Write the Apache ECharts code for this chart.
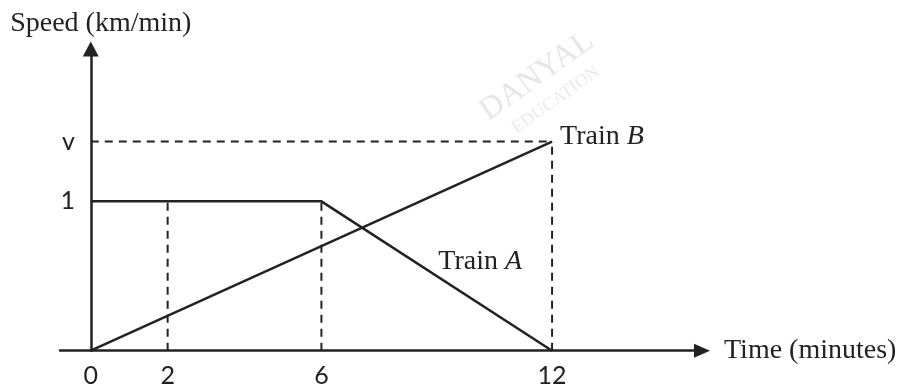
<!DOCTYPE html>
<html>
<head>
<meta charset="utf-8">
<script src="https://cdn.jsdelivr.net/npm/echarts@6/dist/echarts.min.js"></script>
<style>
  html, body { margin: 0; padding: 0; background: #fff; }
  #chart { width: 900px; height: 390px; }
</style>
</head>
<body>
<div id="chart"></div>
<script>
  // 数据
  var V = 1.4; // speed v
  var trainATime = [0, 6, 12];
  var trainASpeed = [1, 1, 0];
  var trainBTime = [0, 12];
  var trainBSpeed = [0, V];
  var xTicks = [0, 2, 6, 12];
  var yTicks = [1, V];
  var yTickLabels = ["1", "v"];

  var ink = "#222";
  var serif = "Liberation Serif";
  var sans = "Lato";

  function pairs(xs, ys) {
    return xs.map(function(x, i) { return [x, ys[i]]; });
  }

  // 虚线辅助线
  var guides = [
    [[2, 0], [2, 1]],
    [[6, 0], [6, 1]],
    [[12, 0], [12, V]],
    [[0, V], [12, V]]
  ];

  var trainRich = {
    n: { fontFamily: serif, fontSize: 28, color: ink },
    i: { fontFamily: serif, fontSize: 28, color: ink, fontStyle: "italic" }
  };

  var myChart = echarts.init(document.getElementById("chart"));

  var option = {
    animation: false,
    backgroundColor: "#fff",
    grid: { left: 60, right: 198, top: 49, bottom: 39.3, containLabel: false },
    xAxis: {
      type: "value",
      min: -0.8,
      max: 15.9,
      name: "Time (minutes)",
      nameLocation: "end",
      nameGap: 22,
      nameTextStyle: { fontFamily: serif, fontSize: 28, color: ink },
      axisLine: {
        onZero: true,
        symbol: ["none", "triangle"],
        symbolSize: [14, 16],
        lineStyle: { color: ink, width: 2.5 }
      },
      axisTick: { show: false },
      splitLine: { show: false },
      axisLabel: {
        customValues: xTicks,
        margin: 13,
        fontFamily: sans,
        fontSize: 25,
        color: ink
      }
    },
    yAxis: {
      type: "value",
      min: 0,
      max: 2.02,
      name: "Speed (km/min)",
      nameLocation: "end",
      nameGap: 11,
      nameTextStyle: { fontFamily: serif, fontSize: 28, color: ink, padding: [0, 0, 0, 20] },
      axisLine: {
        onZero: true,
        symbol: ["none", "triangle"],
        symbolSize: [16, 15],
        lineStyle: { color: ink, width: 2.5 }
      },
      axisTick: { show: false },
      splitLine: { show: false },
      axisLabel: {
        customValues: yTicks,
        margin: -15,
        fontFamily: sans,
        fontSize: 25,
        color: ink,
        formatter: function(val) {
          var i = yTicks.indexOf(val);
          return i >= 0 ? yTickLabels[i] : "";
        }
      }
    },
    graphic: [
      {
        type: "text", x: 537, y: 76, rotation: 0.62,
        style: { text: "DANYAL", font: "32px Liberation Serif", fill: "#e6e6e6", align: "center", verticalAlign: "middle" }
      },
      {
        type: "text", x: 556, y: 100, rotation: 0.62,
        style: { text: "EDUCATION", font: "18px Liberation Serif", fill: "#e9e9e9", align: "center", verticalAlign: "middle" }
      }
    ],
    series: []
  };

  guides.forEach(function(g) {
    option.series.push({
      type: "line",
      data: g,
      symbol: "none",
      silent: true,
      lineStyle: { color: ink, width: 2, type: [8, 6] }
    });
  });

  option.series.push({
    name: "Train A",
    type: "line",
    data: pairs(trainATime, trainASpeed),
    symbol: "none",
    lineStyle: { color: ink, width: 2.5 },
    markPoint: {
      symbol: "circle",
      symbolSize: 1,
      itemStyle: { color: "transparent" },
      data: [{ coord: [10.13, 0.595] }],
      label: {
        show: true,
        position: "inside",
        formatter: "{n|Train }{i|A}",
        rich: trainRich
      }
    }
  });

  option.series.push({
    name: "Train B",
    type: "line",
    data: pairs(trainBTime, trainBSpeed),
    symbol: "none",
    lineStyle: { color: ink, width: 2.5 },
    endLabel: {
      show: true,
      distance: 8,
      offset: [0, -5],
      formatter: "{n|Train }{i|B}",
      rich: trainRich
    }
  });

  myChart.setOption(option);
  window.addEventListener("resize", function() {
    myChart.resize();
  });
</script>
</body>
</html>
